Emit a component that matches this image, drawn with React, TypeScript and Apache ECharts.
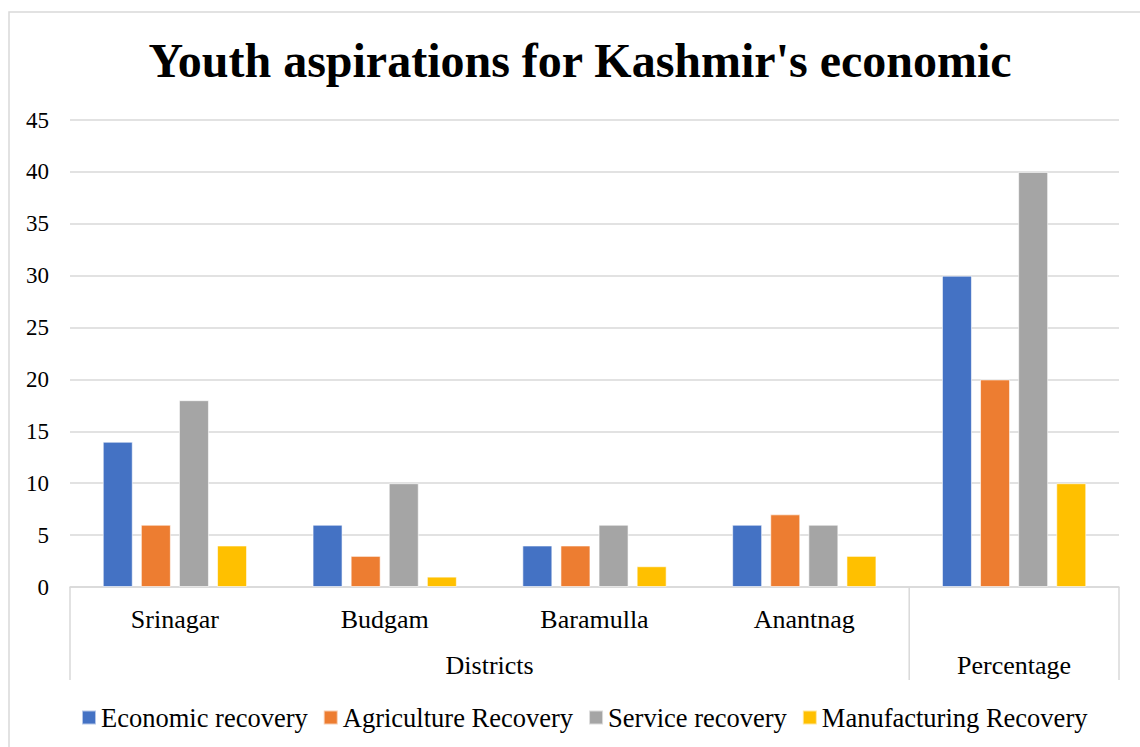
import React, { useEffect, useRef } from "react";
import * as echarts from "echarts";

const categories = ["Srinagar", "Budgam", "Baramulla", "Anantnag", ""];
const groupLabels: Record<number, string> = { 4: "Districts", 9: "Percentage" };
const seriesNames = [
  "Economic recovery",
  "Agriculture Recovery",
  "Service recovery",
  "Manufacturing Recovery",
];
const economic = [14, 6, 4, 6, 30];
const agriculture = [6, 3, 4, 7, 20];
const service = [18, 10, 6, 6, 40];
const manufacturing = [4, 1, 2, 3, 10];
const colors = ["#4472C4", "#ED7D31", "#A5A5A5", "#FFC000"];

const FONT = "'Liberation Serif', 'Times New Roman', serif";
const W = 1140;
const H = 747;
const GL = 70;
const GR = 21;
const GT = 120;
const GB = 160;

export default function App() {
  const ref = useRef<HTMLDivElement>(null);
  useEffect(() => {
    if (!ref.current) return;
    const chart = echarts.init(ref.current, undefined, { renderer: "svg" });
    const values = [economic, agriculture, service, manufacturing];
    const gridW = W - GL - GR;
    const baseY = H - GB;
    const sepXs = [GL, GL + (gridW * 4) / 5, GL + gridW];
    chart.setOption({
      animation: false,
      backgroundColor: "#fff",
      title: {
        text: "Youth aspirations for Kashmir's economic",
        left: 575,
        textAlign: "center",
        top: 31,
        textStyle: { fontFamily: FONT, fontSize: 48, fontWeight: "bold", color: "#000" },
      },
      legend: {
        bottom: 11,
        left: 76,
        itemWidth: 14,
        itemHeight: 14,
        itemGap: 15,
        icon: "rect",
        textStyle: { fontFamily: FONT, fontSize: 26.5, color: "#000" },
        data: seriesNames,
      },
      grid: { left: GL, right: GR, top: GT, bottom: GB },
      xAxis: [
        {
          type: "category",
          data: categories,
          axisLine: { lineStyle: { color: "#d9d9d9", width: 1.5 } },
          axisTick: { show: false },
          axisLabel: { fontFamily: FONT, fontSize: 26, color: "#000", margin: 19 },
        },
        {
          type: "value",
          min: 0,
          max: 10,
          interval: 1,
          position: "bottom",
          offset: 46,
          axisLine: { show: false },
          axisTick: { show: false },
          splitLine: { show: false },
          axisLabel: {
            fontFamily: FONT,
            fontSize: 26,
            color: "#000",
            margin: 19,
            showMinLabel: true,
            showMaxLabel: true,
            formatter: (v: number) => groupLabels[v] ?? "",
          },
        },
      ],
      yAxis: {
        type: "value",
        min: 0,
        max: 45,
        interval: 5,
        axisLine: { show: false },
        axisTick: { show: false },
        splitLine: { lineStyle: { color: "#d9d9d9", width: 1.5 } },
        axisLabel: { fontFamily: FONT, fontSize: 23, color: "#000", margin: 21 },
      },
      series: seriesNames.map((name, i) => ({
        name,
        type: "bar",
        data: values[i],
        barWidth: 30,
        barGap: "27%",
        itemStyle: {
          color: colors[i],
          borderColor: "rgba(255,255,255,0.6)",
          borderWidth: 1,
        },
      })),
      graphic: [
        ...sepXs.map((x) => ({
          type: "line",
          shape: { x1: x, y1: baseY, x2: x, y2: baseY + 93 },
          style: { stroke: "#d9d9d9", lineWidth: 1.5 },
          silent: true,
        })),
        {
          type: "rect",
          shape: { x: 9, y: 12, width: W + 20, height: H + 20 },
          style: { fill: "none", stroke: "#d9d9d9", lineWidth: 1.5 },
          silent: true,
          z: -1,
        },
      ],
    });
    return () => chart.dispose();
  }, []);
  return (
    <div
      ref={ref}
      style={{ position: "absolute", left: 0, top: 0, width: W, height: H }}
    />
  );
}
